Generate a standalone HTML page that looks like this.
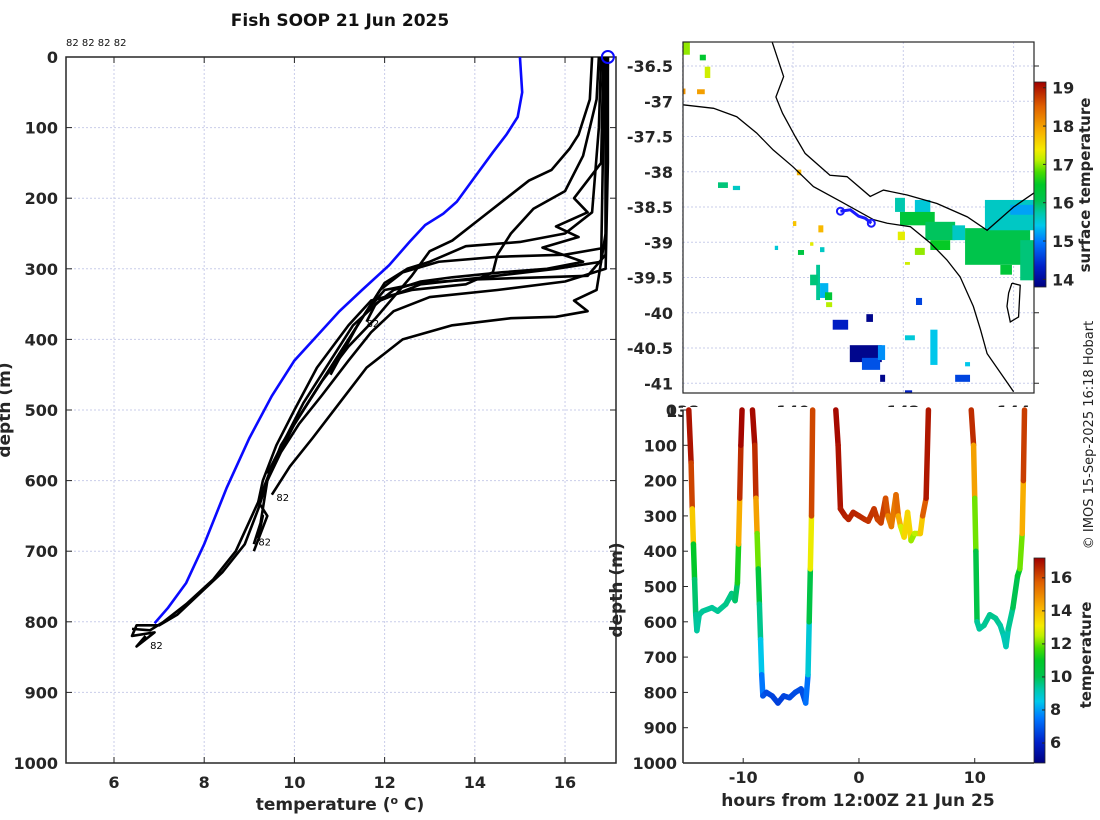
<!DOCTYPE html>
<html><head><meta charset="utf-8">
<style>
html,body{margin:0;padding:0;background:#fff;}
svg{display:block;font-family:"DejaVu Sans","Liberation Sans",sans-serif;}
.tk{font-size:16px;font-weight:bold;fill:#262626;}
.grid{stroke:#c9cdea;stroke-width:1;stroke-dasharray:2,2;}
</style></head>
<body>
<svg id="root" width="1100" height="820" viewBox="0 0 1100 820" xmlns="http://www.w3.org/2000/svg">
<defs>
<clipPath id="clipL"><rect x="66" y="57" width="550" height="706"/></clipPath>
<clipPath id="clipM"><rect x="683" y="42" width="351" height="351"/></clipPath>
<linearGradient id="cmapGrad" x1="0" y1="1" x2="0" y2="0"></linearGradient>
</defs>
<text x="340" y="26" text-anchor="middle" font-size="17" font-weight="bold" fill="#111">Fish SOOP 21 Jun 2025</text>
<text x="66" y="46" font-size="10" fill="#111">82 82 82 82</text>
<g id="left"></g>
<g id="map"></g>
<g id="bottom"></g>
<text transform="translate(1093,435) rotate(-90)" text-anchor="middle" font-size="13" fill="#222">© IMOS 15-Sep-2025 16:18 Hobart</text>
</svg>
<script>
// ---------- data: left panel ----------
const tempTicks = [6, 8, 10, 12, 14, 16];
const depthTicks = [0, 100, 200, 300, 400, 500, 600, 700, 800, 900, 1000];
const meanTemps = [15.0,15.05,14.95,14.7,14.4,14.0,13.6,13.3,12.9,12.55,12.1,11.5,11.0,10.5,10.0,9.5,9.0,8.5,8.0,7.6,7.2,6.9];
const meanDepths = [0,50,85,110,135,170,205,222,238,262,295,330,360,395,430,480,540,610,690,745,780,802];
const profileTemps = [
 [16.95,16.95,16.9,16.0,14.5,13.0,12.2,11.7,11.2,10.6,10.1,9.7,9.4,9.2,8.9,8.4,7.9,7.4,7.0,6.5,6.4,6.9,6.5,6.7],
 [16.9,16.85,16.8,15.8,14.2,12.8,11.9,11.3,10.8,10.2,9.8,9.5,9.2,8.7,8.2,7.6,7.1,6.8,6.4],
 [16.6,16.55,16.3,16.1,15.7,15.2,14.8,14.2,13.5,13.0,12.6,12.2,11.8,11.2,10.6,10.1,9.7,9.4,9.3,9.2,9.3,9.1],
 [16.75,16.7,16.4,16.0,15.3,14.8,14.5,14.4,13.8,12.6,11.7,11.2,10.5,10.0,9.6,9.3,9.2,9.4,9.1],
 [16.85,16.8,16.2,16.5,15.8,16.3,15.5,16.4,15.6,14.6,13.5,12.8,12.2,11.8,11.6],
 [16.9,16.9,16.7,16.2,16.5,15.8,14.8,13.5,12.4,11.6,11.0,10.4,9.9,9.5],
 [16.9,16.9,16.5,15.5,14.0,12.8,12.0,11.6,11.0,10.3,9.8,9.4],
 [16.95,16.9,16.0,14.5,13.2,12.4,11.9,11.4,10.7,10.0,9.6],
 [16.8,16.75,16.6,16.0,15.0,13.8,13.0,12.5,12.0,11.4,10.8]
];
const profileDepths = [
 [0,150,300,318,330,340,360,390,430,480,520,560,600,640,690,730,760,790,805,805,820,815,835,820],
 [0,100,290,300,312,322,345,380,430,490,540,580,630,700,740,775,800,812,810],
 [0,60,110,130,160,175,195,225,260,275,310,340,370,410,460,510,550,600,640,680,650,690],
 [0,60,140,190,215,250,280,305,322,330,345,380,440,500,550,600,630,650,700],
 [0,150,200,220,240,255,270,290,300,305,312,318,330,350,375],
 [0,250,330,345,360,368,370,380,400,440,490,540,580,620],
 [0,280,310,312,315,320,330,360,420,490,540,590],
 [0,270,280,283,290,305,330,380,450,520,570],
 [0,100,220,250,262,268,290,300,320,380,450]
];
const endLabelTemps = [11.6, 9.6, 9.2, 6.8];
const endLabelDepths = [377, 623, 686, 833];
// ---------- data: map ----------
const lonTicks = [138, 140, 142, 144];
const latTicks = [-36.5, -37, -37.5, -38, -38.5, -39, -39.5, -40, -40.5, -41];
const coastALon = [139.62,139.83,139.69,139.81,140.04,140.22,140.67,140.98,141.40,141.64,142.07,142.61,143.16,143.52,144.0,144.37];
const coastALat = [-36.155,-36.65,-36.94,-37.17,-37.50,-37.74,-38.05,-38.07,-38.35,-38.26,-38.33,-38.45,-38.64,-38.83,-38.50,-38.30];
const coastBLon = [138.0,138.56,138.98,139.34,139.64,140.0,140.37,140.86,141.46,141.71,142.13,142.49,142.79,143.03,143.27,143.40,143.52,144.0];
const coastBLat = [-37.05,-37.10,-37.22,-37.45,-37.69,-37.93,-38.21,-38.42,-38.68,-38.73,-38.78,-39.01,-39.25,-39.49,-39.91,-40.24,-40.58,-41.12];
const islandLon = [143.97,144.12,144.09,143.94,143.88,143.91,143.97];
const islandLat = [-39.58,-39.61,-40.06,-40.13,-39.91,-39.72,-39.58];
// patches: [lonW, latN, lonE, latS, sst]
const sstPatches = [
 [138.0,-36.16,138.13,-36.34,17.0],[138.40,-36.51,138.50,-36.67,17.2],[138.31,-36.34,138.42,-36.42,16.4],
 [138.26,-36.83,138.40,-36.90,18.0],[138.0,-36.82,138.05,-36.90,18.1],[138.64,-38.15,138.82,-38.23,15.9],[138.91,-38.20,139.04,-38.26,15.6],
 [140.07,-37.97,140.15,-38.05,17.8],[140.0,-38.70,140.06,-38.77,17.7],[140.46,-38.76,140.55,-38.86,17.8],
 [140.31,-39.0,140.37,-39.05,17.3],[139.67,-39.05,139.73,-39.11,15.5],[140.09,-39.11,140.20,-39.18,16.2],
 [140.49,-39.07,140.57,-39.14,15.6],[140.42,-39.32,140.49,-39.82,15.8],[140.31,-39.46,140.45,-39.61,15.9],
 [140.49,-39.58,140.64,-39.79,15.3],[140.58,-39.71,140.71,-39.82,16.3],[140.60,-39.85,140.71,-39.92,17.1],
 [140.72,-40.10,141.0,-40.24,14.3],[141.03,-40.46,141.61,-40.70,13.9],[141.25,-40.64,141.58,-40.81,14.7],
 [141.54,-40.46,141.67,-40.67,15.1],[141.33,-40.02,141.45,-40.13,13.9],[141.85,-38.37,142.03,-38.57,15.7],
 [142.21,-38.40,142.49,-38.61,15.5],[141.94,-38.57,142.57,-38.76,16.3],[142.40,-38.71,142.94,-38.97,16.0],
 [142.49,-38.97,142.85,-39.11,16.5],[141.90,-38.85,142.03,-38.97,17.3],[142.21,-39.08,142.39,-39.18,17.0],
 [142.03,-39.28,142.12,-39.32,17.2],[142.89,-38.76,143.12,-38.97,15.6],[143.12,-38.80,144.30,-39.32,16.1],
 [143.48,-38.40,144.37,-38.83,15.6],[143.94,-38.47,144.37,-38.61,15.2],[144.12,-38.97,144.37,-39.54,15.9],
 [143.76,-39.32,143.97,-39.46,16.3],[142.49,-40.24,142.62,-40.74,15.4],[142.23,-39.79,142.34,-39.89,14.6],
 [142.94,-40.88,143.21,-40.98,14.6],[143.12,-40.70,143.21,-40.76,15.4],[142.03,-40.32,142.21,-40.39,15.5],
 [141.58,-40.88,141.67,-40.98,13.9],[142.03,-41.10,142.16,-41.14,14.3]
];
const trackLon = [140.86,141.04,141.19,141.31,141.42];
const trackLat = [-38.56,-38.54,-38.63,-38.66,-38.73];
const sstTicks = [14, 15, 16, 17, 18, 19];
// ---------- data: bottom panel ----------
const hourTicks = [-10, 0, 10];
const bottomDepthTicks = [100,200,300,400,500,600,700,800,900,1000];
const segHours = [
 [-14.7,-14.5,-14.4,-14.3,-14.2,-14.1,-14.0,-13.8,-13.5,-12.7,-12.2,-11.5,-11.0,-10.7,-10.5,-10.4,-10.3,-10.2,-10.1],
 [-9.2,-9.0,-8.9,-8.8,-8.7,-8.6,-8.5,-8.4,-8.3,-8.0,-7.5,-7.0,-6.5,-6.0,-5.5,-5.0,-4.6,-4.4,-4.3,-4.2,-4.1,-4.0],
 [-2.0,-1.8,-1.6,-1.2,-0.9,-0.5,0,0.5,0.8,1.3,1.6,1.9,2.3,2.5,2.8,3.2,3.4,3.6,3.9,4.2,4.5,4.8,5.3,5.5,5.8,6.0],
 [9.7,9.9,10.0,10.1,10.2,10.4,10.8,11.3,11.8,12.2,12.5,12.7,12.9,13.3,13.7,13.9,14.1,14.2,14.3]
];
const segDepths = [
 [0,150,280,380,480,580,625,580,570,560,570,550,520,540,490,380,250,100,0],
 [0,100,250,350,450,550,650,750,810,800,810,830,810,815,800,790,830,750,600,450,300,0],
 [0,100,280,300,310,290,300,310,315,280,310,320,250,300,330,240,300,330,360,290,370,350,350,300,250,0],
 [0,100,250,400,600,620,610,580,590,610,640,670,620,560,470,450,350,200,0]
];
const segTemps = [
 [17.0,16.8,15.5,12.0,10.0,9.5,9.3,9.4,9.4,9.4,9.4,9.5,9.6,9.6,10.0,12.5,16.0,17.0,17.2],
 [17.1,17.0,16.0,13.0,11.0,10.0,9.0,8.0,7.0,6.8,6.7,6.5,6.6,6.7,6.8,6.8,6.8,8.0,9.5,11.0,15.0,17.2],
 [17.1,17.0,16.8,16.8,16.6,16.7,16.6,16.5,16.4,16.4,16.3,16.0,16.4,15.5,14.5,16.0,15.0,13.5,12.0,15.0,12.0,12.5,12.5,15.0,16.5,17.2],
 [17.0,16.0,13.0,11.0,9.5,9.3,9.4,9.5,9.5,9.4,9.2,9.0,9.3,9.6,10.5,11.0,13.0,15.5,17.0]
];
const tempCbarTicks = [6, 8, 10, 12, 14, 16];

// ---------- helpers ----------
const NS = "http://www.w3.org/2000/svg";
function mk(tag, attrs, parent){ const e=document.createElementNS(NS,tag); for(const k in attrs) e.setAttribute(k,attrs[k]); if(parent) parent.appendChild(e); return e; }
const cmapStops = [[0,[0,0,128]],[0.1,[0,32,200]],[0.22,[0,120,255]],[0.3,[0,200,235]],[0.36,[0,200,170]],[0.42,[0,195,80]],[0.5,[0,200,40]],[0.56,[70,220,0]],[0.62,[190,240,0]],[0.67,[245,235,0]],[0.76,[248,176,0]],[0.88,[224,96,0]],[1,[160,0,0]]];
function cmap(f){ f=Math.max(0,Math.min(1,f)); for(let i=1;i<cmapStops.length;i++){ if(f<=cmapStops[i][0]){ const a=cmapStops[i-1],b=cmapStops[i]; const t=(f-a[0])/(b[0]-a[0]); const c=a[1].map((v,j)=>Math.round(v+(b[1][j]-v)*t)); return `rgb(${c[0]},${c[1]},${c[2]})`; } } return 'rgb(160,0,0)'; }
const grad=document.getElementById('cmapGrad');
cmapStops.forEach(s=>{ mk('stop',{offset:s[0],'stop-color':`rgb(${s[1].join(',')})`},grad); });

// ---------- left panel ----------
const L=document.getElementById('left');
const LX0=66,LX1=616,LY0=57,LY1=763, TMIN=4.936, TMAX=17.13;
const xT=t=>LX0+(t-TMIN)/(TMAX-TMIN)*(LX1-LX0);
const yD=d=>LY0+d/1000*(LY1-LY0);
tempTicks.forEach(t=>{
  const g=mk('line',{x1:xT(t),x2:xT(t),y1:LY0,y2:LY1,class:'grid'},L);
  
  
  mk('line',{x1:xT(t),x2:xT(t),y1:LY1,y2:LY1-6,stroke:'#262626'},L);
  mk('line',{x1:xT(t),x2:xT(t),y1:LY0,y2:LY0+6,stroke:'#262626'},L);
  const lb=mk('text',{x:xT(t),y:LY1+25,'text-anchor':'middle',class:'tk'},L); lb.textContent=t;
  
  
});
depthTicks.forEach(d=>{
  if(d>0&&d<1000){ const g=mk('line',{x1:LX0,x2:LX1,y1:yD(d),y2:yD(d),class:'grid'},L);
    
     }
  mk('line',{x1:LX0,x2:LX0+6,y1:yD(d),y2:yD(d),stroke:'#262626'},L);
  mk('line',{x1:LX1,x2:LX1-6,y1:yD(d),y2:yD(d),stroke:'#262626'},L);
  const lb=mk('text',{x:LX0-8,y:yD(d)+6,'text-anchor':'end',class:'tk'},L); lb.textContent=d;
  
  
});
const lbox=mk('rect',{x:LX0,y:LY0,width:LX1-LX0,height:LY1-LY0,fill:'none',stroke:'#262626','stroke-width':1.5},L);


const lc=mk('g',{'clip-path':'url(#clipL)'},L);
profileTemps.forEach((ts,i)=>{
  const p=mk('polyline',{points:ts.map((t,j)=>xT(t)+','+yD(profileDepths[i][j])).join(' '),fill:'none',stroke:'#000','stroke-width':2.6,'stroke-linejoin':'round'},lc);
  
  
});
const ml=mk('polyline',{points:meanTemps.map((t,j)=>xT(t)+','+yD(meanDepths[j])).join(' '),fill:'none',stroke:'#0a0aff','stroke-width':2.6},lc);


const sc=mk('circle',{cx:xT(16.95),cy:yD(0),r:6,fill:'none',stroke:'#0a0aff','stroke-width':2},L);


endLabelTemps.forEach((t,i)=>{
  const tx=mk('text',{x:xT(t),y:yD(endLabelDepths[i])+4,'font-size':10,fill:'#000'},L); tx.textContent='82';
  
  
});
let t1=mk('text',{x:340,y:810,'text-anchor':'middle','font-size':17,'font-weight':'bold',fill:'#262626'},L);
t1.innerHTML='temperature (<tspan dy="-6" font-size="11">o</tspan><tspan dy="6"> C)</tspan>';


let t2=mk('text',{transform:'translate(10,410) rotate(-90)','text-anchor':'middle','font-size':17,'font-weight':'bold',fill:'#262626'},L);
t2.textContent='depth (m)';



// ---------- map ----------
const M=document.getElementById('map');
const MX0=683,MX1=1034,MY0=42,MY1=393;
const xL=lo=>682.7+(lo-138)*55.15;
const yLa=la=>66+(-36.5-la)*70.5;
lonTicks.forEach(lo=>{
  const g=mk('line',{x1:xL(lo),x2:xL(lo),y1:MY0,y2:MY1,class:'grid'},M);
  
  
  const lb=mk('text',{x:xL(lo),y:MY1+24,'text-anchor':'middle',class:'tk'},M); lb.textContent=lo;
  
  
});
latTicks.forEach(la=>{
  const g=mk('line',{x1:MX0,x2:MX1,y1:yLa(la),y2:yLa(la),class:'grid'},M);
  
  
  mk('line',{x1:MX1,x2:MX1+5,y1:yLa(la),y2:yLa(la),stroke:'#262626'},M);
  const lb=mk('text',{x:MX0-10,y:yLa(la)+6,'text-anchor':'end',class:'tk'},M); lb.textContent=la;
  
  
});
const mc=mk('g',{'clip-path':'url(#clipM)'},M);
const SMIN=13.8,SMAX=19.15;
sstPatches.forEach(p=>{
  const r=mk('rect',{x:xL(p[0]),y:yLa(p[1]),width:xL(p[2])-xL(p[0]),height:yLa(p[3])-yLa(p[1]),fill:cmap((p[4]-SMIN)/(SMAX-SMIN))},mc);
  
  
});
[[coastALon,coastALat,'coastline-north'],[coastBLon,coastBLat,'coastline-south'],[islandLon,islandLat,'island-outline']].forEach(c=>{
  const p=mk('polyline',{points:c[0].map((lo,i)=>xL(lo)+','+yLa(c[1][i])).join(' '),fill:'none',stroke:'#000','stroke-width':1.3},mc);
  
  
});
const tr=mk('polyline',{points:trackLon.map((lo,i)=>xL(lo)+','+yLa(trackLat[i])).join(' '),fill:'none',stroke:'#1a1aff','stroke-width':3},mc);


[0,trackLon.length-1].forEach(i=>{
  const c=mk('circle',{cx:xL(trackLon[i]),cy:yLa(trackLat[i]),r:3.5,fill:'none',stroke:'#1a1aff','stroke-width':2},mc);
  
  
});
const mbox=mk('rect',{x:MX0,y:MY0,width:MX1-MX0,height:MY1-MY0,fill:'none',stroke:'#262626','stroke-width':1.2},M);


const CB1X=1034,CB1Y0=82,CB1Y1=287;
const cb1=mk('rect',{x:CB1X,y:CB1Y0,width:12,height:CB1Y1-CB1Y0,fill:'url(#cmapGrad)',stroke:'#262626','stroke-width':0.8},M);


sstTicks.forEach(s=>{
  const y=CB1Y1-(s-SMIN)/(SMAX-SMIN)*(CB1Y1-CB1Y0);
  mk('line',{x1:CB1X+12,x2:CB1X+9,y1:y,y2:y,stroke:'#262626'},M);
  const lb=mk('text',{x:CB1X+18,y:y+6,class:'tk','font-size':15},M); lb.textContent=s;
  
  
});
let t3=mk('text',{transform:'translate(1090,185) rotate(-90)','text-anchor':'middle','font-size':15,'font-weight':'bold',fill:'#262626'},M);
t3.textContent='surface temperature';



// ---------- bottom panel ----------
const B=document.getElementById('bottom');
const BX0=683,BX1=1034,BY0=410,BY1=763, HMIN=-15.2, HMAX=15.12;
mk('rect',{x:BX0,y:BY0-3,width:BX1-BX0,height:BY1-BY0+3,fill:'#fff'},B);
const xH=h=>BX0+(h-HMIN)/(HMAX-HMIN)*(BX1-BX0);
const yB=d=>BY0+d/1000*(BY1-BY0);
const TBMIN=4.79,TBMAX=17.2;
const bl=mk('line',{x1:BX0,x2:BX0,y1:BY0,y2:BY1,stroke:'#262626','stroke-width':1.5},B);


const bb=mk('line',{x1:BX0,x2:BX1,y1:BY1,y2:BY1,stroke:'#262626','stroke-width':1.5},B);


[0].concat(bottomDepthTicks).forEach(d=>{
  mk('line',{x1:BX0,x2:BX0+5,y1:yB(d),y2:yB(d),stroke:'#262626'},B);
  const lb=mk('text',{x:BX0-6,y:yB(d)+6,'text-anchor':'end',class:'tk'},B); lb.textContent=d;
  
  
});
hourTicks.forEach(h=>{
  mk('line',{x1:xH(h),x2:xH(h),y1:BY1,y2:BY1-5,stroke:'#262626'},B);
  const lb=mk('text',{x:xH(h),y:BY1+20,'text-anchor':'middle',class:'tk'},B); lb.textContent=h;
  
  
});
segHours.forEach((hs,s)=>{
  const g=mk('g',{},B);
  
  
  for(let i=1;i<hs.length;i++){
    const tm=(segTemps[s][i-1]+segTemps[s][i])/2;
    mk('line',{x1:xH(hs[i-1]),y1:yB(segDepths[s][i-1]),x2:xH(hs[i]),y2:yB(segDepths[s][i]),stroke:cmap((tm-TBMIN)/(TBMAX-TBMIN)),'stroke-width':5.5,'stroke-linecap':'round'},g);
  }
});
const CB2X=1034,CB2Y0=558,CB2Y1=763;
const cb2=mk('rect',{x:CB2X,y:CB2Y0,width:11,height:CB2Y1-CB2Y0,fill:'url(#cmapGrad)',stroke:'#262626','stroke-width':0.8},B);


tempCbarTicks.forEach(s=>{
  const y=CB2Y1-(s-TBMIN)/(TBMAX-TBMIN)*(CB2Y1-CB2Y0);
  mk('line',{x1:CB2X+11,x2:CB2X+8,y1:y,y2:y,stroke:'#262626'},B);
  const lb=mk('text',{x:CB2X+16,y:y+5,class:'tk','font-size':14},B); lb.textContent=s;
  
  
});
let t4=mk('text',{transform:'translate(1091,655) rotate(-90)','text-anchor':'middle','font-size':15,'font-weight':'bold',fill:'#262626'},B);
t4.textContent='temperature';


let t5=mk('text',{x:858,y:806,'text-anchor':'middle','font-size':17,'font-weight':'bold',fill:'#262626'},B);
t5.textContent='hours from 12:00Z 21 Jun 25';


let t6=mk('text',{transform:'translate(622,590) rotate(-90)','text-anchor':'middle','font-size':17,'font-weight':'bold',fill:'#262626'},B);
t6.textContent='depth (m)';


</script>
</body></html>
